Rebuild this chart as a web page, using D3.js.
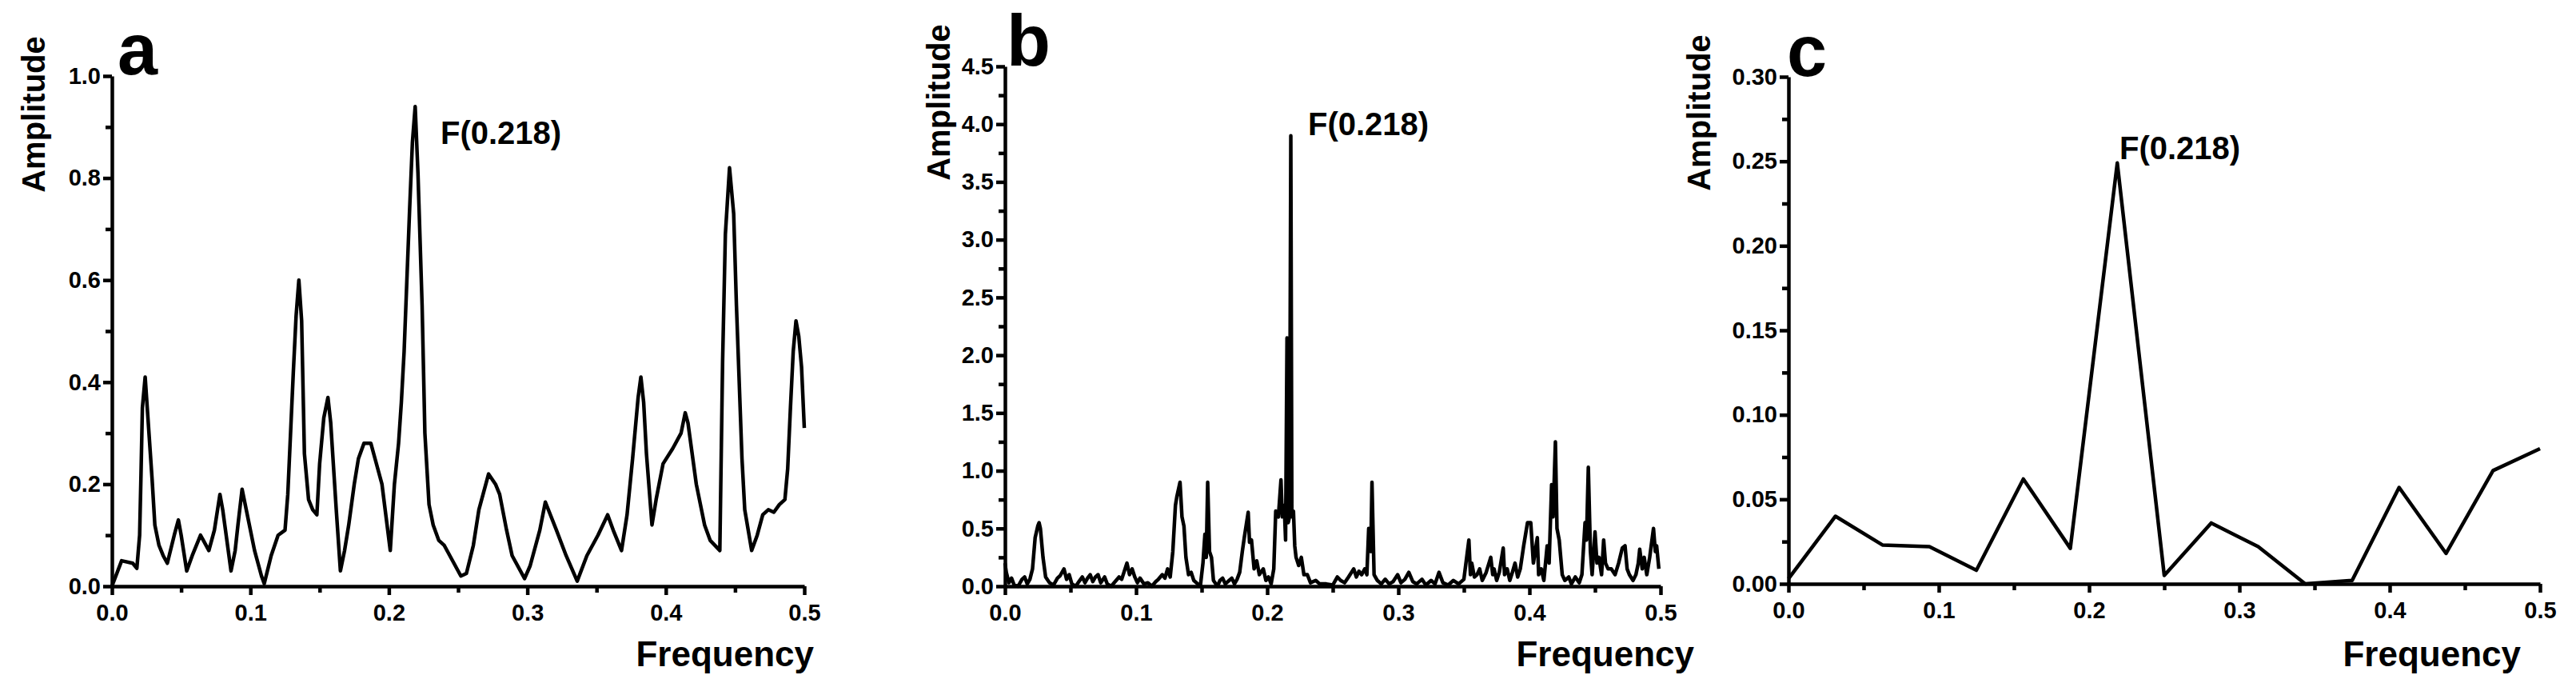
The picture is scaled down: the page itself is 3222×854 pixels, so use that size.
<!DOCTYPE html>
<meta charset="utf-8">
<style>
body { margin: 0; background: #fff; }
svg { display: block; font-family: "Liberation Sans", Arial, sans-serif; }
.line { fill: none; stroke: #000; stroke-width: 4.5px; stroke-linejoin: round; }
.axis path, .axis line { stroke: #000; stroke-width: 4.5px; }
.axis text { font-size: 29px; font-weight: bold; fill: #000; }
.title { font-size: 40px; font-weight: bold; }
.xtitle { font-size: 44px; font-weight: bold; }
.tag { font-size: 90px; font-weight: bold; }
.peak { font-size: 40px; font-weight: bold; }
</style>
<body>
<script src="https://cdn.jsdelivr.net/npm/d3@7"></script>
<script>

// panel a
var freqA = [0, 0.007, 0.015, 0.018, 0.020, 0.021, 0.022, 0.024, 0.025, 0.027,
  0.029, 0.031, 0.034, 0.037, 0.040, 0.045, 0.048, 0.050, 0.054, 0.058,
  0.064, 0.070, 0.074, 0.078, 0.080, 0.086, 0.089, 0.091, 0.094, 0.097,
  0.103, 0.108, 0.110, 0.115, 0.120, 0.125, 0.127, 0.129, 0.131, 0.133,
  0.135, 0.137, 0.139, 0.142, 0.145, 0.148, 0.150, 0.153, 0.156, 0.158,
  0.162, 0.165, 0.168, 0.171, 0.175, 0.178, 0.182, 0.187, 0.190, 0.195,
  0.201, 0.204, 0.207, 0.209, 0.211, 0.213, 0.215, 0.217, 0.219, 0.221,
  0.224, 0.226, 0.229, 0.232, 0.236, 0.240, 0.244, 0.252, 0.256, 0.261,
  0.265, 0.272, 0.277, 0.280, 0.285, 0.289, 0.298, 0.302, 0.309, 0.313,
  0.321, 0.328, 0.336, 0.343, 0.351, 0.358, 0.362, 0.368, 0.372, 0.376,
  0.378, 0.380, 0.382, 0.384, 0.386, 0.390, 0.393, 0.398, 0.405, 0.411,
  0.414, 0.416, 0.422, 0.428, 0.432, 0.439, 0.441, 0.443, 0.446, 0.449,
  0.451, 0.455, 0.457, 0.462, 0.466, 0.470, 0.474, 0.478, 0.482, 0.486,
  0.488, 0.490, 0.492, 0.494, 0.496, 0.498, 0.499, 0.500];
var ampA = [0, 0.05, 0.045, 0.035, 0.10, 0.22, 0.35, 0.41, 0.37, 0.29,
  0.21, 0.12, 0.08, 0.06, 0.045, 0.10, 0.13, 0.10, 0.03, 0.06,
  0.10, 0.07, 0.11, 0.18, 0.15, 0.03, 0.07, 0.12, 0.19, 0.15,
  0.07, 0.02, 0.005, 0.06, 0.10, 0.11, 0.18, 0.30, 0.42, 0.53,
  0.60, 0.52, 0.26, 0.17, 0.15, 0.14, 0.24, 0.33, 0.37, 0.32,
  0.15, 0.03, 0.07, 0.12, 0.20, 0.25, 0.28, 0.28, 0.25, 0.20,
  0.07, 0.20, 0.28, 0.36, 0.46, 0.60, 0.74, 0.87, 0.94, 0.81,
  0.55, 0.30, 0.16, 0.12, 0.09, 0.08, 0.06, 0.02, 0.025, 0.08,
  0.15, 0.22, 0.20, 0.18, 0.11, 0.06, 0.015, 0.04, 0.11, 0.165,
  0.11, 0.06, 0.01, 0.06, 0.10, 0.14, 0.11, 0.07, 0.14, 0.25,
  0.31, 0.37, 0.41, 0.36, 0.26, 0.12, 0.17, 0.24, 0.27, 0.30,
  0.34, 0.32, 0.20, 0.12, 0.09, 0.07, 0.44, 0.69, 0.82, 0.73,
  0.55, 0.25, 0.15, 0.07, 0.10, 0.14, 0.15, 0.145, 0.16, 0.17,
  0.23, 0.35, 0.46, 0.52, 0.49, 0.43, 0.37, 0.31];

// panel b
var freqB = [0.000, 0.001, 0.003, 0.005, 0.007, 0.010, 0.013, 0.015, 0.017, 0.019,
  0.021, 0.023, 0.025, 0.026, 0.027, 0.029, 0.031, 0.034, 0.037, 0.040,
  0.042, 0.045, 0.047, 0.049, 0.051, 0.054, 0.057, 0.059, 0.061, 0.063,
  0.065, 0.067, 0.069, 0.071, 0.073, 0.076, 0.078, 0.081, 0.084, 0.087,
  0.089, 0.093, 0.095, 0.097, 0.099, 0.101, 0.103, 0.106, 0.109, 0.112,
  0.115, 0.117, 0.120, 0.122, 0.124, 0.126, 0.128, 0.130, 0.131, 0.1335,
  0.135, 0.1365, 0.138, 0.140, 0.142, 0.144, 0.147, 0.149, 0.151, 0.1525,
  0.1535, 0.1546, 0.156, 0.1575, 0.159, 0.162, 0.164, 0.166, 0.168, 0.171,
  0.173, 0.175, 0.177, 0.179, 0.181, 0.1825, 0.1855, 0.1865, 0.188, 0.190,
  0.192, 0.194, 0.197, 0.199, 0.201, 0.203, 0.205, 0.2065, 0.2085, 0.2105,
  0.2115, 0.213, 0.214, 0.2151, 0.216, 0.217, 0.218, 0.2188, 0.220, 0.221,
  0.222, 0.224, 0.226, 0.228, 0.2306, 0.233, 0.237, 0.240, 0.245, 0.250,
  0.2535, 0.256, 0.259, 0.262, 0.266, 0.268, 0.270, 0.272, 0.2744, 0.276,
  0.2774, 0.279, 0.2799, 0.2815, 0.284, 0.287, 0.290, 0.293, 0.296, 0.2995,
  0.302, 0.305, 0.308, 0.311, 0.314, 0.318, 0.321, 0.325, 0.328, 0.331,
  0.334, 0.338, 0.342, 0.346, 0.350, 0.3538, 0.355, 0.356, 0.358, 0.360,
  0.362, 0.364, 0.367, 0.3705, 0.372, 0.373, 0.375, 0.377, 0.380, 0.381,
  0.383, 0.385, 0.387, 0.389, 0.391, 0.393, 0.3956, 0.3985, 0.401, 0.403,
  0.406, 0.407, 0.409, 0.411, 0.4135, 0.415, 0.4169, 0.418, 0.4198, 0.421,
  0.4227, 0.425, 0.427, 0.430, 0.432, 0.435, 0.438, 0.440, 0.4424, 0.4435,
  0.4449, 0.4465, 0.4478, 0.450, 0.4515, 0.453, 0.455, 0.4566, 0.458, 0.460,
  0.4624, 0.4653, 0.468, 0.4708, 0.4729, 0.4745, 0.4762, 0.479, 0.4812, 0.483,
  0.4841, 0.486, 0.4875, 0.4895, 0.4917, 0.4946, 0.496, 0.497, 0.4987];
var ampB = [0.20, 0.12, 0.03, 0.07, 0.01, 0.00, 0.06, 0.08, 0.02, 0.06,
  0.15, 0.42, 0.52, 0.55, 0.50, 0.25, 0.08, 0.03, 0.01, 0.07,
  0.09, 0.15, 0.06, 0.10, 0.02, 0.00, 0.05, 0.08, 0.03, 0.07,
  0.10, 0.04, 0.08, 0.10, 0.03, 0.08, 0.02, 0.00, 0.04, 0.08,
  0.06, 0.20, 0.10, 0.15, 0.08, 0.03, 0.07, 0.02, 0.03, 0.00,
  0.04, 0.06, 0.10, 0.07, 0.15, 0.08, 0.30, 0.70, 0.77, 0.90,
  0.60, 0.52, 0.25, 0.10, 0.12, 0.05, 0.02, 0.00, 0.20, 0.45,
  0.25, 0.90, 0.30, 0.25, 0.05, 0.00, 0.05, 0.07, 0.02, 0.05,
  0.07, 0.02, 0.06, 0.12, 0.30, 0.42, 0.64, 0.38, 0.40, 0.15,
  0.22, 0.10, 0.15, 0.05, 0.08, 0.02, 0.15, 0.65, 0.60, 0.92,
  0.60, 0.70, 0.40, 2.15, 0.55, 0.60, 3.90, 0.60, 0.65, 0.35,
  0.25, 0.18, 0.25, 0.10, 0.10, 0.03, 0.05, 0.02, 0.02, 0.01,
  0.08, 0.05, 0.03, 0.08, 0.15, 0.08, 0.13, 0.10, 0.15, 0.10,
  0.50, 0.30, 0.90, 0.10, 0.05, 0.02, 0.06, 0.02, 0.04, 0.10,
  0.03, 0.06, 0.12, 0.04, 0.02, 0.06, 0.01, 0.05, 0.02, 0.12,
  0.03, 0.01, 0.05, 0.02, 0.06, 0.40, 0.10, 0.20, 0.08, 0.10,
  0.15, 0.05, 0.12, 0.25, 0.10, 0.15, 0.05, 0.12, 0.33, 0.10,
  0.15, 0.05, 0.12, 0.20, 0.08, 0.15, 0.35, 0.55, 0.55, 0.20,
  0.42, 0.10, 0.15, 0.05, 0.35, 0.20, 0.88, 0.60, 1.25, 0.50,
  0.40, 0.10, 0.05, 0.08, 0.02, 0.08, 0.03, 0.10, 0.55, 0.40,
  1.03, 0.30, 0.10, 0.47, 0.20, 0.25, 0.10, 0.40, 0.20, 0.15,
  0.15, 0.10, 0.20, 0.33, 0.35, 0.15, 0.10, 0.05, 0.10, 0.20,
  0.32, 0.15, 0.25, 0.10, 0.25, 0.50, 0.30, 0.35, 0.15];

// panel c
var freqC = [0, 0.03125, 0.0625, 0.09375, 0.125, 0.15625, 0.1875, 0.21875, 0.25,
  0.28125, 0.3125, 0.34375, 0.375, 0.40625, 0.4375, 0.46875, 0.5];
var ampC = [0.003, 0.040, 0.023, 0.022, 0.008, 0.062, 0.021, 0.249, 0.005,
  0.036, 0.022, 0.000, 0.002, 0.057, 0.018, 0.067, 0.080];

// ticks
var xTicks = [0, 0.1, 0.2, 0.3, 0.4, 0.5];
var xMinor = [0.05, 0.15, 0.25, 0.35, 0.45];
var yTicksA = [0, 0.2, 0.4, 0.6, 0.8, 1.0];
var yMinorA = [0.1, 0.3, 0.5, 0.7, 0.9];
var yTicksB = [0, 0.5, 1.0, 1.5, 2.0, 2.5, 3.0, 3.5, 4.0, 4.5];
var yMinorB = [0.25, 0.75, 1.25, 1.75, 2.25, 2.75, 3.25, 3.75, 4.25];
var yTicksC = [0, 0.05, 0.10, 0.15, 0.20, 0.25, 0.30];
var yMinorC = [0.025, 0.075, 0.125, 0.175, 0.225, 0.275];

var svg = d3.select("body").append("svg")
    .attr("width", 3222)
    .attr("height", 854);

function panel(p) {
  var x = d3.scaleLinear().domain([0, 0.5]).range([p.x0, p.x1]);
  var y = d3.scaleLinear().domain([0, p.ymax]).range([p.y0, p.y1]);

  var line = d3.line()
      .x(function(d) { return x(d[0]); })
      .y(function(d) { return y(d[1]); });

  svg.append("path")
      .datum(d3.zip(p.freq, p.amp))
      .attr("class", "line")
      .attr("d", line);

  svg.append("g")
      .attr("class", "axis")
      .attr("transform", "translate(0," + p.y0 + ")")
      .call(d3.axisBottom(x).tickValues(xMinor).tickSize(8).tickFormat(""))
      .call(function(g) { g.select(".domain").remove(); });

  svg.append("g")
      .attr("class", "axis")
      .attr("transform", "translate(" + p.x0 + ",0)")
      .call(d3.axisLeft(y).tickValues(p.minor).tickSize(8).tickFormat(""))
      .call(function(g) { g.select(".domain").remove(); });

  svg.append("g")
      .attr("class", "axis")
      .attr("transform", "translate(0," + p.y0 + ")")
      .call(d3.axisBottom(x).tickValues(xTicks).tickSize(11).tickSizeOuter(0)
          .tickPadding(11).tickFormat(d3.format(".1f")))
      .attr("font-size", null).attr("font-family", null);

  svg.append("g")
      .attr("class", "axis")
      .attr("transform", "translate(" + p.x0 + ",0)")
      .call(d3.axisLeft(y).tickValues(p.ticks).tickSize(11).tickSizeOuter(0)
          .tickPadding(3).tickFormat(d3.format(p.fmt)))
      .attr("font-size", null).attr("font-family", null);

  svg.append("text")
      .attr("class", "title")
      .attr("transform", "translate(" + p.ampX + "," + p.ampY + ") rotate(-90)")
      .attr("text-anchor", "middle")
      .text("Amplitude");

  svg.append("text")
      .attr("class", "xtitle")
      .attr("x", p.freqX)
      .attr("y", 833)
      .attr("text-anchor", "end")
      .text("Frequency");

  svg.append("text")
      .attr("class", "tag")
      .attr("x", p.tagX)
      .attr("y", p.tagY)
      .text(p.tag);

  svg.append("text")
      .attr("class", "peak")
      .attr("x", p.peakX)
      .attr("y", p.peakY)
      .text("F(0.218)");
}

panel({freq: freqA, amp: ampA, ymax: 1.0, ticks: yTicksA, minor: yMinorA, fmt: ".1f",
  x0: 140, x1: 1006, y0: 733, y1: 95,
  ampX: 56, ampY: 143, freqX: 1018, tag: "a", tagX: 147, tagY: 93, peakX: 551, peakY: 180});

panel({freq: freqB, amp: ampB, ymax: 4.5, ticks: yTicksB, minor: yMinorB, fmt: ".1f",
  x0: 1257, x1: 2077, y0: 733, y1: 83,
  ampX: 1188, ampY: 128, freqX: 2119, tag: "b", tagX: 1259, tagY: 82, peakX: 1636, peakY: 169});

panel({freq: freqC, amp: ampC, ymax: 0.3, ticks: yTicksC, minor: yMinorC, fmt: ".2f",
  x0: 2237, x1: 3177, y0: 730, y1: 96,
  ampX: 2139, ampY: 141, freqX: 3153, tag: "c", tagX: 2235, tagY: 95, peakX: 2651, peakY: 199});

</script>
